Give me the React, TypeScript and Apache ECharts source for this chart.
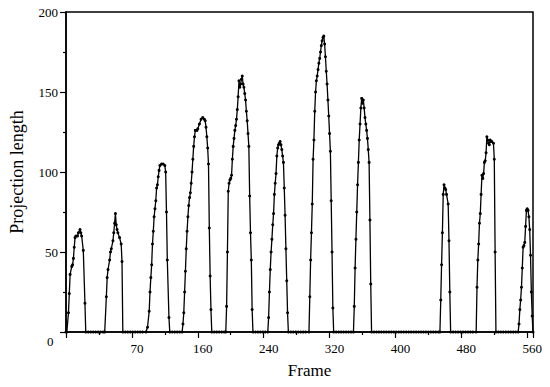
import { useEffect, useRef } from 'react';
import * as echarts from 'echarts';

// Frame numbers (x) and projection lengths (y)
const frames = [
  0, 1, 3, 4, 5, 7, 8, 9, 10, 11, 12, 14, 15, 17, 18, 19, 21, 23, 24,
  27, 30, 33, 36, 39, 42, 45,
  47, 49, 50, 51, 53, 54, 55, 57, 58, 59, 60, 61, 62, 63, 65, 67, 68, 69,
  72, 75, 78, 81, 84, 87, 90, 93,
  97, 99, 101, 102, 103, 104, 105, 106, 107, 108, 109, 110, 111, 112, 113, 114, 116, 118, 120, 121, 122, 123, 125, 126,
  129, 132, 135, 138,
  141, 142, 143, 144, 145, 146, 147, 148, 149, 150, 151, 152, 153, 154, 155, 156, 157, 159, 160, 162, 164, 166, 168, 169, 170, 171, 172, 173, 174, 175, 176, 177,
  180, 183, 186, 189, 192,
  194, 195, 196, 197, 198, 199, 200, 201, 202, 203, 204, 205, 206, 207, 208, 209, 210, 211, 212, 213, 214, 215, 216, 217, 218, 219, 220, 221, 222, 223, 224, 225, 226, 227,
  230, 233, 236, 239, 242,
  245, 246, 247, 248, 249, 250, 251, 252, 253, 254, 255, 256, 257, 258, 259, 260, 261, 262, 263, 264, 265, 266, 267, 268, 269, 270,
  273, 276, 279, 282, 285, 288, 291,
  295, 296, 297, 298, 299, 300, 301, 302, 303, 304, 305, 306, 307, 308, 309, 310, 311, 312, 313, 314, 315, 316, 317, 318, 319, 320, 321, 322, 323, 324, 325,
  328, 331, 334, 337, 340, 343, 346,
  349, 350, 351, 352, 353, 354, 355, 356, 357, 358, 359, 360, 361, 362, 363, 364, 365, 366, 367, 368, 369, 370, 371,
  374, 377, 380, 383, 386, 389, 392, 395, 398, 401, 404, 407, 410, 413, 416, 419, 422, 425, 428, 431, 434, 437, 440, 443, 446, 449, 452,
  454, 455, 456, 457, 458, 459, 460, 461, 462, 464, 465, 466, 467,
  470, 473, 476, 479, 482, 485, 488, 491, 494,
  498, 499, 500, 501, 502, 503, 504, 505, 506, 507, 508, 509, 510, 511, 512, 513, 514, 515, 516, 517, 519, 520, 521, 522,
  525, 528, 531, 534, 537, 540, 543, 546,
  549, 550, 551, 552, 553, 554, 555, 556, 557, 558, 559, 560, 561, 562, 563, 564, 565, 566, 567,
];

const projectionLength = [
  0, 0, 12, 24, 36, 41, 42, 46, 53, 59, 60, 60, 62, 64, 62, 60, 51, 18, 0,
  0, 0, 0, 0, 0, 0, 0,
  0, 22, 34, 39, 45, 50, 52, 57, 62, 68, 74, 67, 64, 62, 59, 55, 44, 0,
  0, 0, 0, 0, 0, 0, 0, 0,
  0, 3, 13, 25, 34, 42, 55, 63, 72, 77, 82, 90, 92, 97, 101, 104, 105, 105, 104, 100, 75, 45, 9, 0,
  0, 0, 0, 0,
  0, 5, 12, 25, 38, 52, 63, 72, 79, 84, 87, 93, 100, 108, 116, 122, 126, 126, 127, 130, 133, 134, 133, 132, 128, 122, 115, 105, 65, 35, 14, 0,
  0, 0, 0, 0, 0,
  0, 16, 50, 88, 93, 95, 96, 98, 108, 116, 121, 126, 129, 133, 139, 147, 157, 153, 155, 158, 160, 155, 153, 149, 145, 138, 132, 124, 116, 85, 62, 45, 14, 0,
  0, 0, 0, 0, 0,
  0, 9, 25, 39, 50, 58, 67, 74, 86, 93, 99, 110, 115, 117, 118, 119, 117, 114, 110, 106, 90, 73, 52, 32, 12, 0,
  0, 0, 0, 0, 0, 0, 0,
  0, 22, 45, 62, 80, 108, 120, 138, 150, 157, 160, 164, 168, 171, 175, 179, 182, 184, 185, 180, 172, 163, 155, 145, 135, 124, 113, 82, 50, 15, 0,
  0, 0, 0, 0, 0, 0, 0,
  0, 16, 40, 58, 75, 92, 106, 120, 130, 140, 146, 143, 145, 140, 134, 130, 126, 121, 114, 106, 70, 30, 0,
  0, 0, 0, 0, 0, 0, 0, 0, 0, 0, 0, 0, 0, 0, 0, 0, 0, 0, 0, 0, 0, 0, 0, 0, 0, 0, 0,
  0, 20, 42, 62, 86, 92, 90, 89, 86, 80, 57, 25, 0,
  0, 0, 0, 0, 0, 0, 0, 0, 0,
  0, 28, 45, 55, 68, 74, 86, 98, 96, 99, 106, 107, 112, 122, 120, 118, 117, 120, 119, 119, 118, 108, 50, 0,
  0, 0, 0, 0, 0, 0, 0, 0,
  0, 5, 14, 20, 28, 40, 53, 54, 56, 66, 76, 77, 76, 72, 64, 48, 25, 10, 0,
];

const xTickValues = [0, 80, 160, 240, 320, 400, 480, 560];
const xTickLabels = ['', '70', '160', '240', '320', '400', '480', '560'];
const yTickValues = [0, 50, 100, 150, 200];
const yTickLabels = ['', '50', '100', '150', '200'];
const cornerLabel = '0';
const xTitle = 'Frame';
const yTitle = 'Projection length';

const FONT = "'Liberation Serif', 'Times New Roman', serif";

export default function App() {
  const ref = useRef<HTMLDivElement>(null);

  useEffect(() => {
    const chart = echarts.init(ref.current!, null, { renderer: 'svg' });
    const axisLineStyle = { color: '#000', width: 1.5 };
    chart.setOption({
      animation: false,
      backgroundColor: '#fff',
      grid: {
        left: 63,
        right: 17,
        top: 12,
        bottom: 55,
        show: true,
        borderColor: '#000',
        borderWidth: 1.5,
        backgroundColor: 'transparent',
      },
      xAxis: {
        type: 'value',
        min: 0,
        max: 567,
        interval: 80,
        name: xTitle,
        nameLocation: 'middle',
        nameGap: 30,
        nameTextStyle: { fontFamily: FONT, fontSize: 17, color: '#000', padding: [0, 0, 0, 20] },
        axisLine: { show: true, onZero: false, lineStyle: axisLineStyle },
        axisTick: { show: true, length: 6, lineStyle: { color: '#000', width: 1.2 } },
        minorTick: { show: true, splitNumber: 2, length: 3, lineStyle: { color: '#000', width: 1.2 } },
        splitLine: { show: false },
        minorSplitLine: { show: false },
        axisLabel: {
          fontFamily: FONT,
          fontSize: 13,
          color: '#000',
          margin: 10,
          padding: [0, 0, 0, 10],
          showMaxLabel: false,
          formatter: (v: number) => {
            const i = xTickValues.indexOf(v);
            return i >= 0 ? xTickLabels[i] : '';
          },
        },
      },
      yAxis: {
        type: 'value',
        min: 0,
        max: 200,
        interval: 50,
        name: yTitle,
        nameLocation: 'middle',
        nameGap: 40,
        nameRotate: 90,
        nameTextStyle: { fontFamily: FONT, fontSize: 18, color: '#000' },
        axisLine: { show: true, onZero: false, lineStyle: axisLineStyle },
        axisTick: { show: true, length: 6, lineStyle: { color: '#000', width: 1.2 } },
        minorTick: { show: true, splitNumber: 2, length: 3, lineStyle: { color: '#000', width: 1.2 } },
        splitLine: { show: false },
        minorSplitLine: { show: false },
        axisLabel: {
          fontFamily: FONT,
          fontSize: 13,
          color: '#000',
          margin: 8,
          formatter: (v: number) => {
            const i = yTickValues.indexOf(v);
            return i >= 0 ? yTickLabels[i] : '';
          },
        },
      },
      graphic: [
        {
          type: 'text',
          left: 47,
          top: 335,
          style: { text: cornerLabel, font: `13px ${FONT}`, fill: '#000' },
        },
      ],
      series: [
        {
          type: 'line',
          data: frames.map((f, i) => [f, projectionLength[i]]),
          symbol: 'circle',
          symbolSize: 3,
          showSymbol: true,
          showAllSymbol: true,
          lineStyle: { color: '#000', width: 1.3 },
          itemStyle: { color: '#000' },
          clip: false,
        },
      ],
    });
    return () => chart.dispose();
  }, []);

  return (
    <div
      ref={ref}
      style={{ position: 'fixed', left: 0, top: 0, width: 550, height: 387 }}
    />
  );
}
